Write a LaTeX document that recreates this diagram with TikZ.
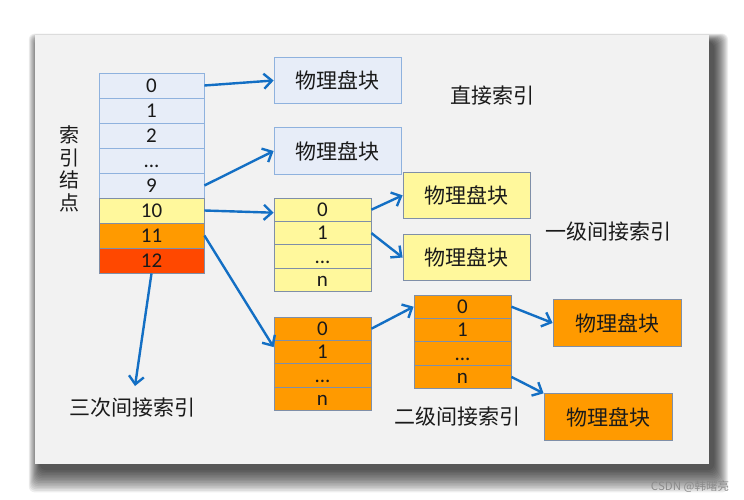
\documentclass[tikz,border=0pt]{standalone}
\usepackage{fontspec}
\setmainfont{Noto Sans CJK SC}
\newfontfamily\digitfont{Carlito}
\usetikzlibrary{arrows.meta,calc}
\definecolor{cardbg}{HTML}{F2F2F2}
\definecolor{bluefill}{HTML}{E7EDF8}
\definecolor{bluebd}{HTML}{8FB2DE}
\definecolor{yelfill}{HTML}{FFF89C}
\definecolor{orfill}{HTML}{FF9A00}
\definecolor{redfill}{HTML}{FF4800}
\definecolor{graybd}{HTML}{7F8FA8}
\definecolor{arrowc}{HTML}{136FC4}
\definecolor{txt}{HTML}{1A1A1A}
\begin{document}
\begin{tikzpicture}[x=1pt,y=-1pt,
  cellbase/.style={draw=#1, line width=0.8pt, inner sep=0pt, text=txt},
  mcell/.style={cellbase=bluebd, minimum width=105pt, minimum height=25pt, text height=13.5pt, text depth=0pt, font=\digitfont\fontsize{21}{21}\selectfont},
  tcell/.style={cellbase=graybd, minimum width=97pt, minimum height=23.4pt, text height=13.5pt, text depth=0pt, font=\digitfont\fontsize{21}{21}\selectfont},
  blk/.style={cellbase=#1, minimum width=127pt, minimum height=46.5pt, font=\fontsize{21}{21}\selectfont},
  lbl/.style={text=txt, inner sep=0pt, font=\fontsize{21}{21}\selectfont},
  arr/.style={draw=arrowc, line width=2.4pt, -{Straight Barb[length=8pt,width=15pt,line width=2.4pt]}}
]
\useasboundingbox (0,0) rectangle (744,500);
\fill[white] (0,0) rectangle (744,500);
% shadow
\foreach \i in {0,...,14}{
  \fill[black, opacity=0.065, rounded corners=6pt] (40-0.8*\i,42-0.6*\i) rectangle (714+\i,470+1.6*\i);
}
\fill[cardbg] (35,35) rectangle (709,464);

% main index column
\node[mcell, fill=bluefill] (m0) at (151.5,85.5) {0};
\node[mcell, fill=bluefill] (m1) at (151.5,110.5) {1};
\node[mcell, fill=bluefill] (m2) at (151.5,135.5) {2};
\node[mcell, fill=bluefill] (m3) at (151.5,160.5) {...};
\node[mcell, fill=bluefill] (m4) at (151.5,185.5) {9};
\node[mcell, fill=yelfill, draw=graybd] (m5) at (151.5,210.5) {10};
\node[mcell, fill=orfill, draw=graybd] (m6) at (151.5,235.5) {11};
\node[mcell, fill=redfill, draw=graybd] (m7) at (151.5,260.5) {12};

\node[align=center, text=txt, inner sep=0pt, font=\fontsize{20}{22.7}\selectfont] (side) at (69,169) {索\\引\\结\\点};

% direct blocks
\node[blk=bluebd, fill=bluefill] (b1) at (337.5,80.5) {物理盘块};
\node[blk=bluebd, fill=bluefill] (b2) at (337.5,151) {物理盘块};
\node[lbl] (direct) at (492,96) {直接索引};

% single indirect
\node[tcell, fill=yelfill] (y0) at (322.5,209.7) {0};
\node[tcell, fill=yelfill] (y1) at (322.5,233.1) {1};
\node[tcell, fill=yelfill] (y2) at (322.5,256.5) {...};
\node[tcell, fill=yelfill] (y3) at (322.5,279.9) {n};
\node[blk=graybd, fill=yelfill] (ya) at (466.5,195.3) {物理盘块};
\node[blk=graybd, fill=yelfill] (yb) at (466.5,257.5) {物理盘块};
\node[lbl] (single) at (608,232) {一级间接索引};

% double indirect
\node[tcell, fill=orfill] (o0) at (322.5,328.7) {0};
\node[tcell, fill=orfill] (o1) at (322.5,352.1) {1};
\node[tcell, fill=orfill] (o2) at (322.5,375.5) {...};
\node[tcell, fill=orfill] (o3) at (322.5,398.9) {n};
\node[tcell, fill=orfill] (p0) at (462.5,306.7) {0};
\node[tcell, fill=orfill] (p1) at (462.5,330.1) {1};
\node[tcell, fill=orfill] (p2) at (462.5,353.5) {...};
\node[tcell, fill=orfill] (p3) at (462.5,376.9) {n};
\node[blk=graybd, fill=orfill, minimum width=128pt] (oa) at (617,323) {物理盘块};
\node[blk=graybd, fill=orfill, minimum width=128pt] (ob) at (608,417) {物理盘块};
\node[lbl] (double) at (457.5,416.7) {二级间接索引};

% triple indirect
\coordinate (t3) at (135,386);
\node[lbl] (triple) at (132.5,408) {三次间接索引};

% arrows
\draw[arr] (m0.east) -- (b1.west);
\draw[arr] (m4.east) -- (b2.west);
\draw[arr] (m5.east) -- ($(y0.west)+(0,3)$);
\draw[arr] (m6.east) -- ($(o1.west)+(0,-5)$);
\draw[arr] (m7.south) -- (t3);
\draw[arr] (y0.east) -- (ya.west);
\draw[arr] (y1.east) -- (yb.west);
\draw[arr] (o0.east) -- (p0.west);
\draw[arr] (p0.east) -- (oa.west);
\draw[arr] (p3.east) -- (ob.north west);

% watermark
\node[text=black!45, inner sep=0pt, font=\fontsize{11.5}{12}\selectfont] (wm) at (690,487) {CSDN @韩曙亮};
\end{tikzpicture}
\end{document}
